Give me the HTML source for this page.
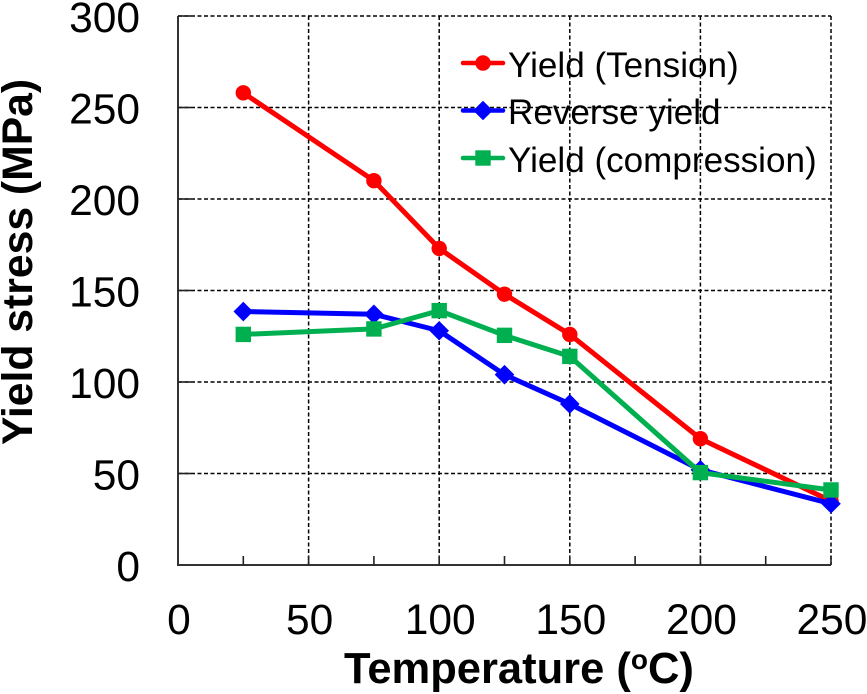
<!DOCTYPE html>
<html lang="en">
<head>
<meta charset="utf-8">
<title>Yield stress vs temperature</title>
<style>
html,body{margin:0;padding:0;background:#fff;width:867px;height:694px;overflow:hidden}
svg{display:block}
text{font-family:"Liberation Sans",Arial,sans-serif;fill:#000}
.tick{font-size:42.5px}
.title{font-weight:bold}
.leg{font-size:35.1px}
</style>
</head>
<body>
<svg id="chart" width="867" height="694" viewBox="0 0 867 694" xmlns="http://www.w3.org/2000/svg">
<g id="grid"></g>
<g id="ticks"></g>
<g id="labels"></g>
<g id="series"></g>
<g id="legend">
<g id="legend-keys"></g>
<text class="leg" x="508" y="77">Yield (Tension)</text>
<text class="leg" x="508" y="124">Reverse yield</text>
<text class="leg" x="508" y="172">Yield (compression)</text>
</g>
<text class="title" font-size="43.5" x="344" y="683">Temperature (<tspan font-size="28" dy="-14">o</tspan><tspan dy="14">C)</tspan></text>
<text class="title" font-size="42.7" transform="translate(32,445) rotate(-90)" x="0" y="0">Yield stress (MPa)</text>
</svg>
<script>
const temperatures = [25, 75, 100, 125, 150, 200, 250];
const yieldTension = [258, 210, 173, 148, 126, 69, 35];
const reverseYield = [138.5, 137, 128, 104, 88, 52, 33.5];
const yieldCompression = [126, 129, 139, 125.5, 114, 50.5, 41];
const xTickLabels = [0, 50, 100, 150, 200, 250];
const yTickLabels = [0, 50, 100, 150, 200, 250, 300];
const xMinorTicks = [25, 75, 125, 175, 225];

const NS = 'http://www.w3.org/2000/svg';
const left = 178, right = 831, top_ = 16, bottom = 565;
const xMax = 250, yMax = 300;
function xScale(v) { return left + (right - left) * v / xMax; }
function yScale(v) { return bottom - (bottom - top_) * v / yMax; }
function make(tag, attrs, parent) {
  const el = document.createElementNS(NS, tag);
  for (const k in attrs) el.setAttribute(k, attrs[k]);
  parent.appendChild(el);
  return el;
}
function drawMarker(kind, cx, cy, color, parent, scale) {
  let el;
  if (kind === 'circle') {
    el = make('circle', { cx: cx, cy: cy, r: 7.7 * scale, fill: color }, parent);
  } else if (kind === 'diamond') {
    const r = 9.8 * scale;
    el = make('polygon', { points: [cx - r, cy, cx, cy - r, cx + r, cy, cx, cy + r].join(' '), fill: color }, parent);
  } else {
    const s = 7.7 * scale;
    el = make('rect', { x: cx - s, y: cy - s, width: 2 * s, height: 2 * s, fill: color }, parent);
  }
  return el;
}

const gridG = document.getElementById('grid');
const ticksG = document.getElementById('ticks');
const labelsG = document.getElementById('labels');
const seriesG = document.getElementById('series');
const keysG = document.getElementById('legend-keys');

xTickLabels.forEach(function (v) {
  if (v === 0) return;
  const x = xScale(v);
  const line = make('line', { x1: x, x2: x, y1: top_, y2: bottom, stroke: '#000', 'stroke-width': 1.5, 'stroke-dasharray': '4 2.5' }, gridG);
  
  
});
yTickLabels.forEach(function (v) {
  if (v === 0) return;
  const y = yScale(v);
  const line = make('line', { x1: left, x2: right, y1: y, y2: y, stroke: '#000', 'stroke-width': 1.5, 'stroke-dasharray': '4 2.5' }, gridG);
  
  
});

const axisPath = make('path', { d: 'M' + left + ' ' + top_ + 'V' + bottom + 'H' + right, fill: 'none', stroke: '#333', 'stroke-width': 2 }, ticksG);



xMinorTicks.concat(xTickLabels.slice(1)).forEach(function (v) {
  const x = xScale(v);
  const t = make('line', { x1: x, x2: x, y1: bottom - 9, y2: bottom, stroke: '#222', 'stroke-width': 1.6 }, ticksG);
  
  
});
yTickLabels.slice(1).forEach(function (v) {
  const y = yScale(v);
  const t = make('line', { x1: left, x2: left + 13, y1: y, y2: y, stroke: '#222', 'stroke-width': 1.6 }, ticksG);
  
  
});

xTickLabels.forEach(function (v) {
  const t = make('text', { class: 'tick', x: xScale(v) + 1, y: 634, 'text-anchor': 'middle' }, labelsG);
  t.textContent = String(v);
  
  
});
yTickLabels.forEach(function (v) {
  const t = make('text', { class: 'tick', x: 140, y: yScale(v) + 16, 'text-anchor': 'end' }, labelsG);
  t.textContent = String(v);
  
  
});

function drawSeries(values, color, kind, name) {
  const g = make('g', {}, seriesG);
  
  
  const pts = values.map(function (v, i) { return xScale(temperatures[i]) + ',' + yScale(v); }).join(' ');
  const line = make('polyline', { points: pts, fill: 'none', stroke: color, 'stroke-width': 5, 'stroke-linejoin': 'round' }, g);
  
  
  values.forEach(function (v, i) {
    const m = drawMarker(kind, xScale(temperatures[i]), yScale(v), color, g, 1);
    
    
  });
}
drawSeries(yieldTension, '#ff0000', 'circle', 'series-yield-tension');
drawSeries(reverseYield, '#0000ff', 'diamond', 'series-reverse-yield');
drawSeries(yieldCompression, '#00b050', 'square', 'series-yield-compression');

function drawKey(y, color, kind, name) {
  const line = make('line', { x1: 463, x2: 503, y1: y, y2: y, stroke: color, 'stroke-width': 4.5, 'stroke-linecap': 'round' }, keysG);
  
  
  const m = drawMarker(kind, 483, y, color, keysG, 1);
  
  
}
drawKey(63, '#ff0000', 'circle', 'legend-key-tension');
drawKey(110.5, '#0000ff', 'diamond', 'legend-key-reverse');
drawKey(158, '#00b050', 'square', 'legend-key-compression');
</script>
</body>
</html>
